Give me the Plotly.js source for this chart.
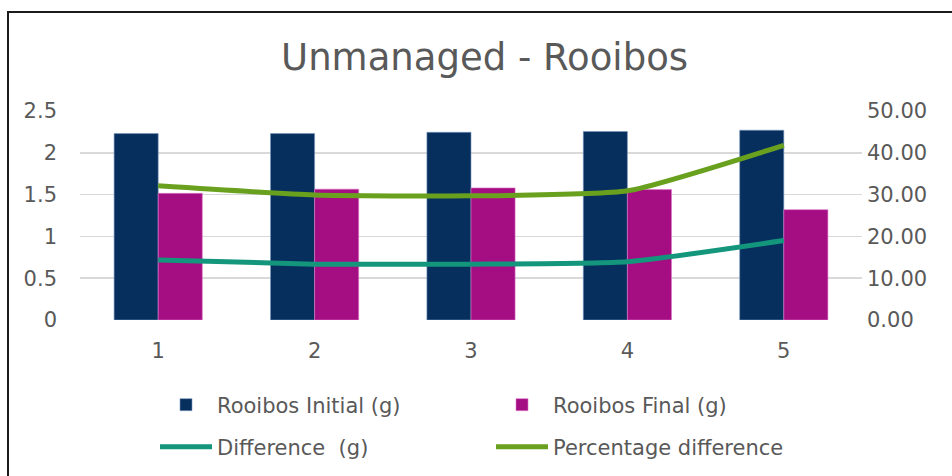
<!DOCTYPE html>
<html>
<head>
<meta charset="utf-8">
<script src="https://cdn.plot.ly/plotly-3.0.1.min.js"></script>
<style>
  html, body { margin: 0; padding: 0; background: #fff; }
  #wrap { position: relative; width: 952px; height: 476px; overflow: hidden; }
  #chart { position: absolute; left: 0; top: 0; width: 952px; height: 476px; }
  #frame { position: absolute; left: 7px; top: 11px; width: 960px; height: 480px;
           border-left: 2px solid #1c1c1c; border-top: 2px solid #1c1c1c; pointer-events: none; }
</style>
</head>
<body>
<div id="wrap">
  <div id="chart"></div>
  <div id="frame"></div>
</div>
<script>
const categories = ['1', '2', '3', '4', '5'];
const initialG = [2.23, 2.23, 2.245, 2.255, 2.27];
const finalG = [1.515, 1.565, 1.58, 1.56, 1.32];
const differenceG = [0.717, 0.668, 0.668, 0.697, 0.95];
const percentDiff = [32.1, 29.9, 29.7, 30.9, 41.8];
const leftTicks = [0, 0.5, 1, 1.5, 2, 2.5];
const leftTickText = ['0', '0.5', '1', '1.5', '2', '2.5'];
const rightTicks = [0, 10, 20, 30, 40, 50];

const FONT = 'DejaVu Sans, sans-serif';
const GREY = '#595959';

const traces = [
  { type: 'bar', x: categories, y: initialG, name: 'Rooibos Initial (g)',
    marker: { color: '#072F5E', line: { color: 'rgba(120,150,190,0.6)', width: 1 } },
    legend: 'legend', hoverinfo: 'skip' },
  { type: 'bar', x: categories, y: finalG, name: 'Rooibos Final (g)',
    marker: { color: '#A50E82', line: { color: 'rgba(220,120,200,0.6)', width: 1 } },
    legend: 'legend', hoverinfo: 'skip' },
  { type: 'scatter', mode: 'lines', x: categories, y: differenceG, name: 'Difference  (g)',
    line: { color: '#13967B', width: 5, shape: 'spline', smoothing: 0.5 },
    legend: 'legend2', hoverinfo: 'skip' },
  { type: 'scatter', mode: 'lines', x: categories, y: percentDiff, name: 'Percentage difference',
    yaxis: 'y2',
    line: { color: '#69A11F', width: 5, shape: 'spline', smoothing: 0.5 },
    legend: 'legend2', hoverinfo: 'skip' }
];

const layout = {
  width: 952, height: 476,
  paper_bgcolor: '#fff', plot_bgcolor: '#fff',
  margin: { l: 80, r: 90, t: 111, b: 156 },
  font: { family: FONT, color: GREY, size: 21 },
  title: { text: 'Unmanaged - Rooibos', font: { family: FONT, size: 37, color: GREY },
           xref: 'container', yref: 'container', x: 0.509, y: 1 - 57 / 476,
           xanchor: 'center', yanchor: 'middle' },
  barmode: 'group', bargap: 0.436, bargroupgap: 0,
  showlegend: true,
  xaxis: { type: 'category', showgrid: false, zeroline: false, showline: false,
           ticks: '', tickfont: { size: 21, color: GREY }, ticklabelstandoff: 16 },
  yaxis: { range: [0, 2.5], tickvals: leftTicks, ticktext: leftTickText,
           showgrid: true, gridcolor: '#D9D9D9', gridwidth: 1.5, zeroline: false,
           showline: false, ticks: '', tickfont: { size: 21, color: GREY }, ticklabelstandoff: 22 },
  yaxis2: { range: [0, 50], tickvals: rightTicks, tickformat: '.2f', overlaying: 'y', side: 'right',
            showgrid: false, zeroline: false, showline: false, ticks: '',
            tickfont: { size: 21, color: GREY }, ticklabelstandoff: 4 },
  legend: { orientation: 'h', x: 155 / 952, xref: 'container', y: 1 - 405 / 476, yref: 'container',
            xanchor: 'left', yanchor: 'middle', entrywidth: 269, entrywidthmode: 'pixels',
            itemwidth: 52, font: { size: 21, color: GREY }, bgcolor: 'rgba(0,0,0,0)', traceorder: 'normal' },
  legend2: { orientation: 'h', x: 155 / 952, xref: 'container', y: 1 - 447 / 476, yref: 'container',
             xanchor: 'left', yanchor: 'middle', entrywidth: 269, entrywidthmode: 'pixels',
             itemwidth: 52, font: { size: 21, color: GREY }, bgcolor: 'rgba(0,0,0,0)', traceorder: 'normal' }
};

Plotly.newPlot('chart', traces, layout, { displayModeBar: false, staticPlot: true });
</script>
</body>
</html>
